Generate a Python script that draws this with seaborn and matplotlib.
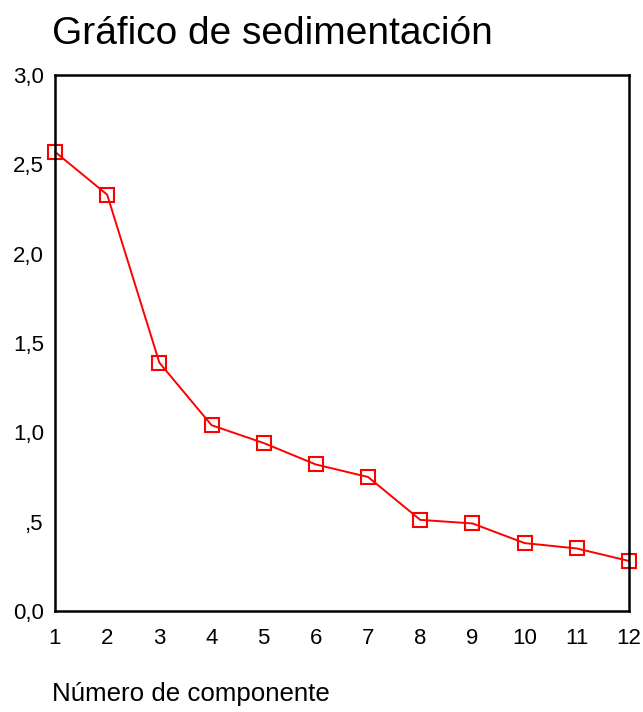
import numpy as np
import pandas as pd
import matplotlib
matplotlib.use("Agg")
import matplotlib.pyplot as plt
import seaborn as sns

componentes = [1, 2, 3, 4, 5, 6, 7, 8, 9, 10, 11, 12]
autovalores = [2.57, 2.33, 1.39, 1.04, 0.94, 0.82, 0.75, 0.51, 0.49, 0.38, 0.35, 0.28]
y_ticks = [0.0, 0.5, 1.0, 1.5, 2.0, 2.5, 3.0]
y_labels = ["0,0", ",5", "1,0", "1,5", "2,0", "2,5", "3,0"]

sns.set_style("white")
plt.rcParams["font.family"] = ["Liberation Sans", "DejaVu Sans"]
plt.rcParams["text.color"] = "black"
plt.rcParams["xtick.color"] = "black"
plt.rcParams["ytick.color"] = "black"

df = pd.DataFrame({"componente": componentes, "autovalor": autovalores})

fig = plt.figure(figsize=(6.43, 7.12), dpi=100)
ax = fig.add_axes([55 / 643, 1 - 611 / 712, (629 - 55) / 643, (611 - 75) / 712])

sns.lineplot(data=df, x="componente", y="autovalor", ax=ax, color="red",
             marker="s", markersize=10, markerfacecolor="none",
             markeredgecolor="red", markeredgewidth=1.5, linewidth=1.4,
             clip_on=False)

ax.set_xlim(1, 12)
ax.set_ylim(0, 3)
ax.set_xticks(componentes)
ax.set_xticklabels([str(c) for c in componentes])
ax.set_yticks(y_ticks)
ax.set_yticklabels(y_labels)
ax.tick_params(direction="out", length=3, width=3.5, color="black",
               labelsize=16, labelcolor="black")
ax.tick_params(axis="x", pad=9)
ax.tick_params(axis="y", pad=5)
for s in ax.spines.values():
    s.set_color("black")
    s.set_linewidth(1.8)
ax.set_xlabel("")
ax.set_ylabel("")

fig.text(52 / 643, 1 - 34 / 712, "Gráfico de sedimentación", fontsize=28,
         ha="left", va="center", color="black")
fig.text(52 / 643, 1 - 694 / 712, "Número de componente", fontsize=18.6,
         ha="left", va="center", color="black")

fig.savefig("out.png", dpi=100)
